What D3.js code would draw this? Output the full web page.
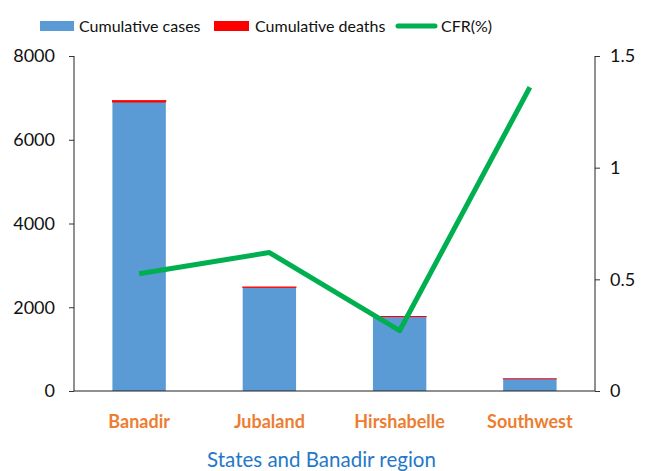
<!DOCTYPE html>
<html>
<head>
<meta charset="utf-8">
<script src="https://cdn.jsdelivr.net/npm/d3@7"></script>
<style>
  body { margin: 0; background: #fff; }
  text { font-family: Lato, "Open Sans", sans-serif; }
</style>
</head>
<body>
<script>
// data
var regions = ["Banadir", "Jubaland", "Hirshabelle", "Southwest"];
var cases = [6900, 2470, 1775, 290];
var deaths = [36, 15, 5, 4];
var cfr = [0.525, 0.62, 0.27, 1.36];
var leftTicks = [0, 2000, 4000, 6000, 8000];
var rightTicks = [0, 0.5, 1, 1.5];

var margin = {top: 56, right: 52, bottom: 80, left: 74};
var svg = d3.select("body").append("svg")
    .attr("width", 647)
    .attr("height", 471);
var width = 647 - margin.left - margin.right,
    height = 471 - margin.top - margin.bottom,
    g = svg.append("g").attr("transform", "translate(" + margin.left + "," + margin.top + ")");

var x = d3.scaleBand().domain(regions).range([0, width]).paddingInner(0.59).paddingOuter(0.295),
    y = d3.scaleLinear().domain([0, 8000]).range([height, 0]),
    y2 = d3.scaleLinear().domain([0, 1.5]).range([height, 0]);

var data = regions.map(function(r, i) {
  return {region: r, cases: cases[i], deaths: deaths[i], cfr: cfr[i]};
});

// bars: cases with deaths stacked on top
var bar = g.selectAll(".bar")
  .data(data)
  .enter().append("g")
    .attr("class", "bar");

bar.append("rect")
    .attr("x", function(d) { return x(d.region); })
    .attr("y", function(d) { return y(d.cases); })
    .attr("width", x.bandwidth())
    .attr("height", function(d) { return height - y(d.cases); })
    .attr("fill", "#5b9bd5");

bar.append("rect")
    .attr("x", function(d) { return x(d.region); })
    .attr("y", function(d) { return y(d.cases + d.deaths); })
    .attr("width", x.bandwidth())
    .attr("height", function(d) { return y(d.cases) - y(d.cases + d.deaths); })
    .attr("fill", "#ff0000")
    .attr("stroke", "#ff0000")
    .attr("stroke-width", 0.8);

// axes
var left = g.append("g")
    .call(d3.axisLeft(y).tickValues(leftTicks).tickSize(5).tickPadding(14).tickFormat(d3.format("d")));
var right = g.append("g")
    .attr("transform", "translate(" + width + ",0)")
    .call(d3.axisRight(y2).tickValues(rightTicks).tickSize(5).tickPadding(10).tickFormat(function(d) { return String(d); }));
[left, right].forEach(function(a) {
  a.select(".domain").remove();
  a.selectAll("line").attr("stroke", "#333");
  a.selectAll("text").style("font-size", "18px").attr("fill", "#111").style("font-family", "Lato, sans-serif");
});
g.append("line").attr("x1", 0).attr("x2", 0).attr("y1", 0).attr("y2", height).attr("stroke", "#222");
g.append("line").attr("x1", width).attr("x2", width).attr("y1", 0).attr("y2", height).attr("stroke", "#222");
g.append("line").attr("x1", 0).attr("x2", width).attr("y1", height).attr("y2", height).attr("stroke", "#222").attr("stroke-width", 1.2);

// category labels
g.selectAll(".cat")
  .data(regions)
  .enter().append("text")
    .attr("class", "cat")
    .attr("x", function(d) { return x(d) + x.bandwidth() / 2; })
    .attr("y", height + 37)
    .attr("text-anchor", "middle")
    .attr("fill", "#ed7d31")
    .style("font-weight", "bold")
    .style("font-size", "18px")
    .text(function(d) { return d; });

// x title
g.append("text")
    .attr("x", width / 2 - 13)
    .attr("y", height + 76)
    .attr("text-anchor", "middle")
    .attr("fill", "#1f78c8")
    .style("font-size", "20.5px")
    .text("States and Banadir region");

// CFR line
var line = d3.line()
    .x(function(d) { return x(d.region) + x.bandwidth() / 2; })
    .y(function(d) { return y2(d.cfr); });
g.append("path")
    .datum(data)
    .attr("d", line)
    .attr("fill", "none")
    .attr("stroke", "#00b050")
    .attr("stroke-width", 5)
    .attr("stroke-linejoin", "round");

// legend
var legend = svg.append("g").attr("transform", "translate(0,26)");
legend.append("rect").attr("x", 40).attr("y", -5).attr("width", 34).attr("height", 10).attr("fill", "#5b9bd5");
legend.append("text").attr("x", 79).attr("y", 0).attr("dy", "0.35em").style("font-size", "16px").attr("fill", "#111").text("Cumulative cases");
legend.append("rect").attr("x", 214).attr("y", -5).attr("width", 35).attr("height", 10).attr("fill", "#ff0000");
legend.append("text").attr("x", 255).attr("y", 0).attr("dy", "0.35em").style("font-size", "16px").attr("fill", "#111").text("Cumulative deaths");
legend.append("line").attr("x1", 398).attr("x2", 435).attr("y1", 0).attr("y2", 0).attr("stroke", "#00b050").attr("stroke-width", 5).attr("stroke-linecap", "round");
legend.append("text").attr("x", 441).attr("y", 0).attr("dy", "0.35em").style("font-size", "16px").attr("fill", "#111").text("CFR(%)");
</script>
</body>
</html>
